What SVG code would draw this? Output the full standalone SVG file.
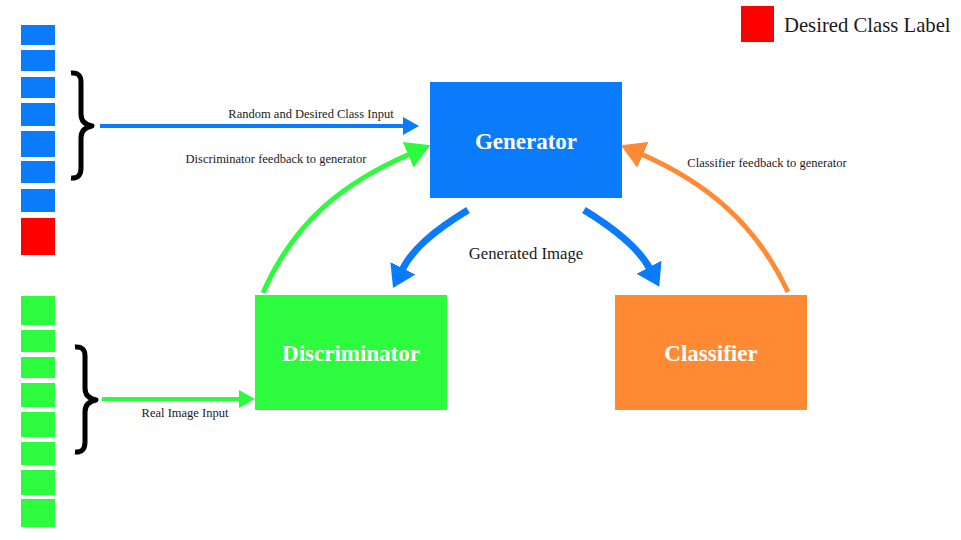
<svg xmlns="http://www.w3.org/2000/svg" width="961" height="540" viewBox="0 0 961 540">
<style>
.lbl{font-family:"Liberation Serif","Times New Roman",serif;fill:#1a1a1a;}
.box-t{font-family:"Liberation Serif","Times New Roman",serif;font-weight:bold;fill:#ffffff;font-size:23px;text-anchor:middle;}
.blue{fill:#0a7bfa;}
.green{fill:#2cfc3d;}
.orange{fill:#ff8a33;}
.brace{fill:none;stroke:#000;stroke-width:5;stroke-linejoin:round;}
</style>
<defs>
<marker id="mBlueS" markerUnits="userSpaceOnUse" markerWidth="16" markerHeight="18" refX="1" refY="9" orient="auto" viewBox="0 0 16 18"><path d="M0,0 L16,9 L0,18 z" fill="#0a7bfa"/></marker>
<marker id="mGreenS" markerUnits="userSpaceOnUse" markerWidth="16" markerHeight="18" refX="1" refY="9" orient="auto" viewBox="0 0 16 18"><path d="M0,0 L16,9 L0,18 z" fill="#2cfc3d"/></marker>
<marker id="mGreenC" markerUnits="userSpaceOnUse" markerWidth="24" markerHeight="28" refX="2" refY="14" orient="auto" viewBox="0 0 24 28"><path d="M0,0 L24,14 L0,28 z" fill="#2cfc3d"/></marker>
<marker id="mOrangeC" markerUnits="userSpaceOnUse" markerWidth="24" markerHeight="28" refX="2" refY="14" orient="auto" viewBox="0 0 24 28"><path d="M0,0 L24,14 L0,28 z" fill="#ff8a33"/></marker>
<marker id="mBlueC" markerUnits="userSpaceOnUse" markerWidth="22" markerHeight="28" refX="2" refY="14" orient="auto" viewBox="0 0 22 28"><path d="M0,0 L22,14 L0,28 z" fill="#0a7bfa"/></marker>
</defs>

<g id="blue-input-vector">
<rect class="blue" x="21" y="25" width="34" height="20"/>
<rect class="blue" x="21" y="50" width="34" height="21"/>
<rect class="blue" x="21" y="77" width="34" height="21"/>
<rect class="blue" x="21" y="103" width="34" height="23"/>
<rect class="blue" x="21" y="131" width="34" height="26"/>
<rect class="blue" x="21" y="161" width="34" height="22"/>
<rect class="blue" x="21" y="189" width="34" height="23"/>
<rect x="21" y="218" width="34" height="37" fill="#ff0000"/>
</g>

<g id="green-input-vector">
<rect class="green" x="21" y="296" width="34" height="29"/>
<rect class="green" x="21" y="330" width="34" height="22"/>
<rect class="green" x="21" y="357" width="34" height="21"/>
<rect class="green" x="21" y="383" width="34" height="24"/>
<rect class="green" x="21" y="412" width="34" height="25"/>
<rect class="green" x="21" y="442" width="34" height="23"/>
<rect class="green" x="21" y="470" width="34" height="25"/>
<rect class="green" x="21" y="499" width="34" height="28"/>
</g>

<g id="brace-top">
<path class="brace" d="M71,73 Q81,72 81,82 L81,114 Q81,124 92,126 Q81,128 81,138 L81,168 Q81,179 71,178"/>
</g>
<g id="brace-bottom">
<path class="brace" d="M75,347 Q85,346 85,356 L85,388 Q85,398 96,400 Q85,402 85,412 L85,442 Q85,453 75,452"/>
</g>

<g id="legend">
<rect x="741" y="6" width="33" height="36" fill="#ff0000"/>
<text class="lbl" x="784" y="32" font-size="20.7">Desired Class Label</text>
</g>

<g id="generator">
<rect class="blue" x="430" y="82" width="192" height="116"/>
<text class="box-t" x="526" y="149">Generator</text>
</g>
<g id="discriminator">
<rect class="green" x="255" y="295" width="192" height="115"/>
<text class="box-t" x="351" y="361">Discriminator</text>
</g>
<g id="classifier">
<rect class="orange" x="615" y="295" width="192" height="115"/>
<text class="box-t" x="711" y="361">Classifier</text>
</g>

<g id="connectors">
<path d="M100,126 L404,126" stroke="#0a7bfa" stroke-width="4" fill="none" marker-end="url(#mBlueS)"/>
<path d="M102,399 L240,399" stroke="#2cfc3d" stroke-width="4" fill="none" marker-end="url(#mGreenS)"/>
<path d="M263,293 C295,220 345,182 410,154" stroke="#2cfc3d" stroke-width="5" fill="none" marker-end="url(#mGreenC)"/>
<path d="M788,292 C755,222 705,182 641,154" stroke="#ff8a33" stroke-width="5" fill="none" marker-end="url(#mOrangeC)"/>
<path d="M468,210 C432,232 412,250 402,270" stroke="#0a7bfa" stroke-width="7" fill="none" marker-end="url(#mBlueC)"/>
<path d="M584,210 C620,232 640,250 650,269" stroke="#0a7bfa" stroke-width="7" fill="none" marker-end="url(#mBlueC)"/>
</g>

<g id="labels">
<text class="lbl" x="311" y="118" font-size="12.5" text-anchor="middle">Random and Desired Class Input</text>
<text class="lbl" x="276" y="163" font-size="12.5" text-anchor="middle">Discriminator feedback to generator</text>
<text class="lbl" x="767" y="167" font-size="12.5" text-anchor="middle">Classifier feedback to generator</text>
<text class="lbl" x="526" y="259" font-size="16.7" text-anchor="middle">Generated Image</text>
<text class="lbl" x="185" y="417" font-size="12.5" text-anchor="middle">Real Image Input</text>
</g>
</svg>
